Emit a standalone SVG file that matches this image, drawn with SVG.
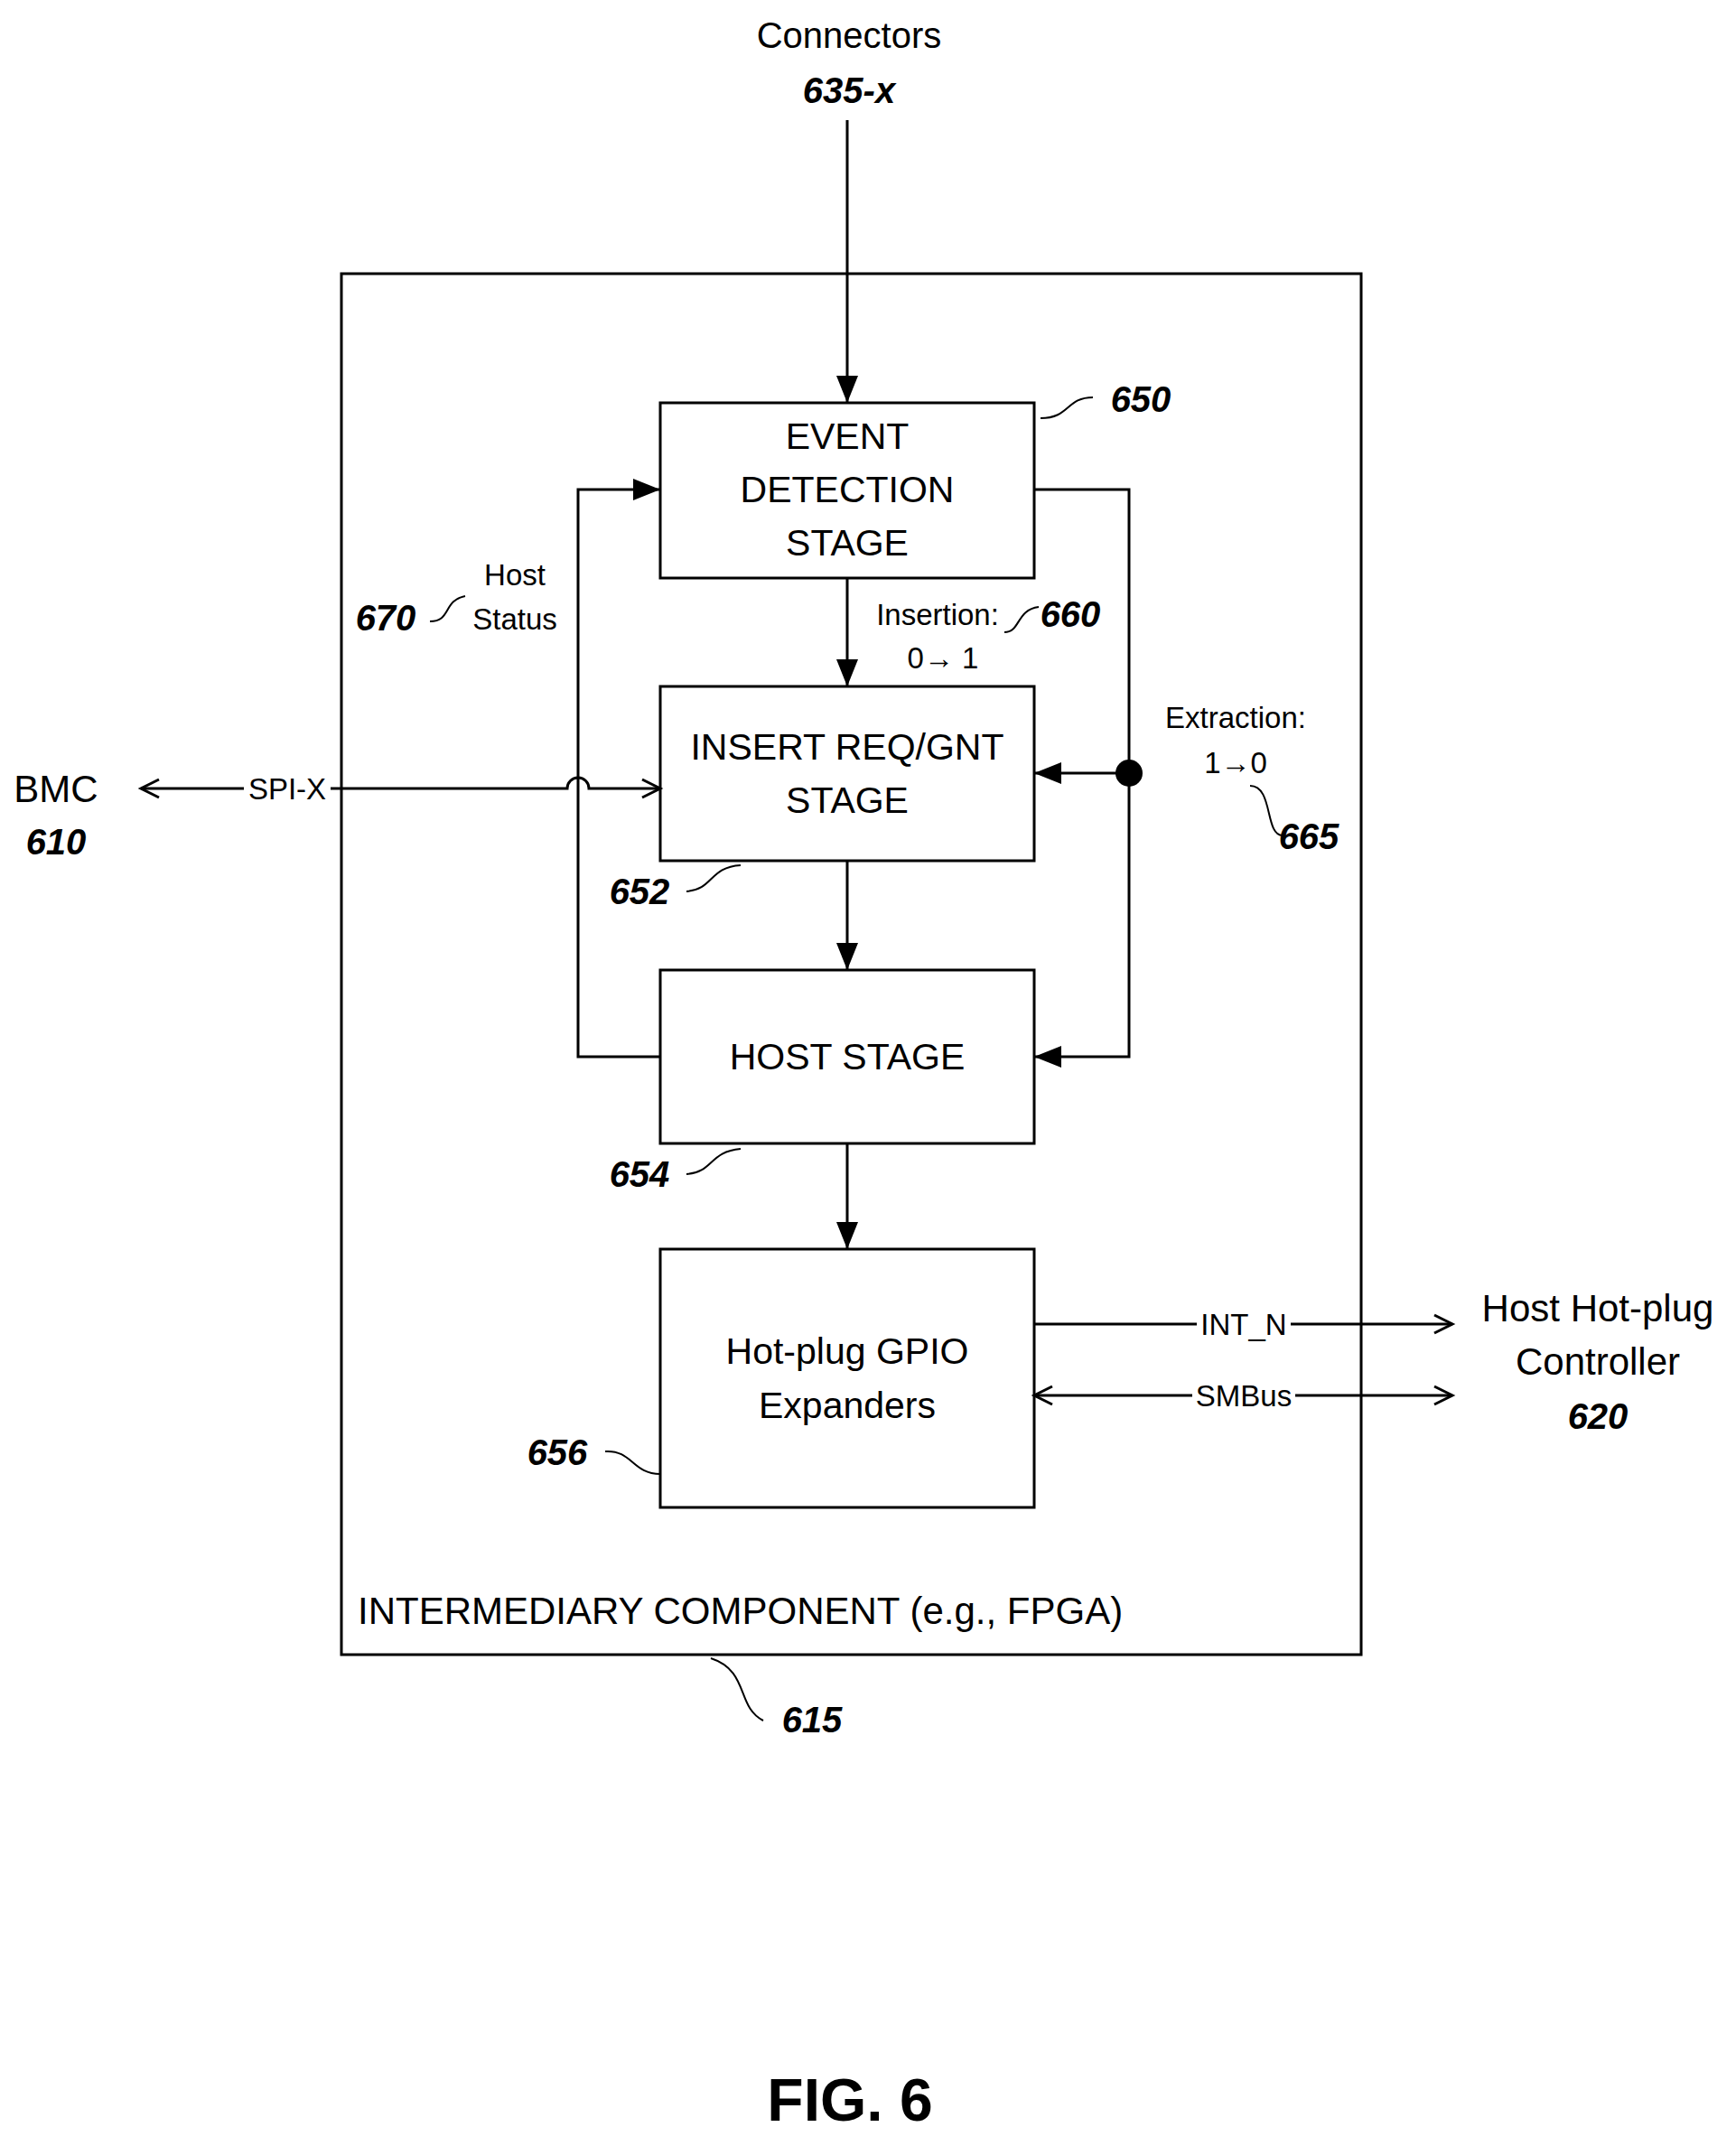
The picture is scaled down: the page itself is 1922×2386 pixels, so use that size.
<svg xmlns="http://www.w3.org/2000/svg" width="1922" height="2386" viewBox="0 0 1922 2386">
<style>
text{font-family:"Liberation Sans Narrow","Liberation Sans",sans-serif;fill:#000}
.b{font-size:41px;text-anchor:middle}
.l{font-size:33px;text-anchor:middle}
.n{font-size:40px;font-weight:bold;font-style:italic;text-anchor:middle}
.box{fill:#fff;stroke:#000;stroke-width:3}
.w{fill:none;stroke:#000;stroke-width:3}
.s{fill:none;stroke:#000;stroke-width:2}
</style>
<defs>
<marker id="a" viewBox="0 0 10 10" refX="10" refY="5" markerWidth="30" markerHeight="30" orient="auto" markerUnits="userSpaceOnUse"><path d="M0,1 L10,5 L0,9z"/></marker>
<marker id="o" viewBox="0 0 10 10" refX="10" refY="5" markerWidth="20" markerHeight="20" orient="auto-start-reverse" markerUnits="userSpaceOnUse" overflow="visible"><path d="M0,0 L10,5 L0,10" fill="none" stroke="#000" stroke-width="1.5"/></marker>
</defs>
<g id="outer"><rect class="box" x="378" y="303" width="1129" height="1529"/>
<text x="396" y="1798" style="font-size:42px">INTERMEDIARY COMPONENT (e.g., FPGA)</text>
<path class="s" d="M787,1836 C830,1850 815,1890 845,1905"/><text class="n" x="899" y="1918">615</text></g>
<g id="n650"><rect class="box" x="731" y="446" width="414" height="194"/>
<text class="b" x="938" y="497">EVENT</text><text class="b" x="938" y="556">DETECTION</text><text class="b" x="938" y="615">STAGE</text>
<path class="s" d="M1152,463 C1185,463 1180,440 1210,440"/><text class="n" x="1263" y="456">650</text></g>
<g id="n652"><rect class="box" x="731" y="760" width="414" height="193"/>
<text class="b" x="938" y="841">INSERT REQ/GNT</text><text class="b" x="938" y="900">STAGE</text>
<path class="s" d="M760,987 C790,985 785,960 820,958"/><text class="n" x="708" y="1001">652</text></g>
<g id="n654"><rect class="box" x="731" y="1074" width="414" height="192"/>
<text class="b" x="938" y="1184">HOST STAGE</text>
<path class="s" d="M760,1300 C790,1298 785,1275 820,1272"/><text class="n" x="708" y="1314">654</text></g>
<g id="n656"><rect class="box" x="731" y="1383" width="414" height="286"/>
<text class="b" x="938" y="1510">Hot-plug GPIO</text><text class="b" x="938" y="1570">Expanders</text>
<path class="s" d="M670,1607 C700,1605 700,1632 731,1632"/><text class="n" x="617" y="1622">656</text></g>
<g id="conn" fill="none">
<text class="l" x="940" y="53" style="font-size:40px">Connectors</text><text class="n" x="940" y="114">635-x</text>
<line class="w" x1="938" y1="133" x2="938" y2="446" marker-end="url(#a)"/>
<line class="w" x1="938" y1="640" x2="938" y2="760" marker-end="url(#a)"/>
<line class="w" x1="938" y1="953" x2="938" y2="1074" marker-end="url(#a)"/>
<line class="w" x1="938" y1="1266" x2="938" y2="1383" marker-end="url(#a)"/>
<path class="w" d="M731,1170 H640 V542 H731" marker-end="url(#a)"/>
<path class="w" d="M1145,542 H1250 V1170 H1145" marker-end="url(#a)"/>
<line class="w" x1="1250" y1="856" x2="1145" y2="856" marker-end="url(#a)"/>
<circle cx="1250" cy="856" r="15" fill="#000"/>
<path class="w" d="M363,873 H628 A12,12 0 0 1 652,873 H731" marker-end="url(#o)"/>
<line class="w" x1="280" y1="873" x2="156" y2="873" marker-end="url(#o)"/>
<rect x="270" y="855" width="96" height="36" fill="#fff"/>
<text class="l" x="318" y="885">SPI-X</text>
<line class="w" x1="1145" y1="1466" x2="1608" y2="1466" marker-end="url(#o)"/>
<path class="w" d="M1145,1545 H1608" marker-start="url(#o)" marker-end="url(#o)"/>
<rect x="1325" y="1447" width="104" height="38" fill="#fff"/><text class="l" x="1377" y="1478">INT_N</text>
<rect x="1320" y="1526" width="114" height="38" fill="#fff"/><text class="l" x="1377" y="1557">SMBus</text>
</g>
<g id="labels">
<text class="l" x="570" y="648">Host</text><text class="l" x="570" y="697">Status</text>
<path class="s" d="M476,688 C500,688 490,665 515,660"/><text class="n" x="427" y="698">670</text>
<text class="l" x="1038" y="692">Insertion:</text><text class="l" x="1044" y="740">0→ 1</text>
<path class="s" d="M1112,700 C1130,700 1125,675 1150,672"/><text class="n" x="1185" y="694">660</text>
<text class="l" x="1368" y="806">Extraction:</text><text class="l" x="1368" y="856">1→0</text>
<path class="s" d="M1384,870 C1410,870 1400,925 1420,925"/><text class="n" x="1449" y="940">665</text>
<text x="62" y="888" style="font-size:42px" text-anchor="middle">BMC</text><text class="n" x="62" y="946">610</text>
<text x="1769" y="1463" style="font-size:42px" text-anchor="middle">Host Hot-plug</text>
<text x="1769" y="1522" style="font-size:42px" text-anchor="middle">Controller</text>
<text class="n" x="1769" y="1582">620</text>
<text x="941" y="2348" style="font-size:66px;font-weight:bold" text-anchor="middle">FIG. 6</text>
</g>
</svg>
